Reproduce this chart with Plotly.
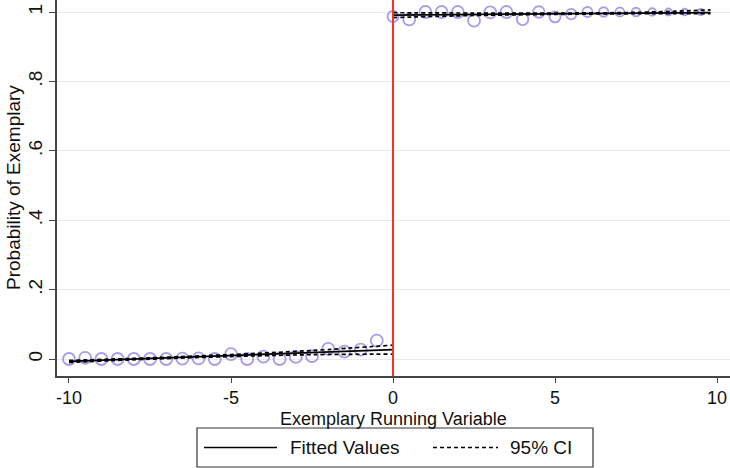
import plotly.graph_objects as go

# ---------------- data ----------------
x_left = [-10, -9.5, -9, -8.5, -8, -7.5, -7, -6.5, -6, -5.5,
          -5, -4.5, -4, -3.5, -3, -2.5, -2, -1.5, -1, -0.5]
y_left = [0.0, 0.003, 0.0, 0.0, 0.0, 0.0, 0.0, 0.001, 0.002, 0.0,
          0.014, 0.0, 0.007, 0.0, 0.006, 0.008, 0.029, 0.021, 0.027, 0.053]
s_left = [12] * 20

x_right = [0, 0.5, 1, 1.5, 2, 2.5, 3, 3.5, 4, 4.5,
           5, 5.5, 6, 6.5, 7, 7.5, 8, 8.5, 9, 9.5]
y_right = [0.987, 0.979, 1.0, 1.0, 1.0, 0.975, 0.999, 1.0, 0.979, 1.0,
           0.986, 0.994, 1.0, 1.0, 1.0, 1.0, 1.0, 1.0, 1.0, 1.0]
s_right = [11, 12, 12, 12, 12, 12, 12, 12, 11.5, 11.5,
           11, 10.5, 10, 9.5, 9, 8.5, 7.5, 7, 6.5, 6]

fit_left_x = [-10, 0]
fit_left_y = [-0.007, 0.027]
ci_left_x = [-10, -7.5, -5, -2.5, 0]
ci_left_hi = [-0.004, 0.0035, 0.013, 0.0245, 0.040]
ci_left_lo = [-0.010, -0.0005, 0.007, 0.0125, 0.014]

fit_right_x = [0, 9.8]
fit_right_y = [0.991, 0.9985]
ci_right_x = [0, 2.5, 5, 7.5, 9.8]
ci_right_hi = [0.998, 0.997, 0.997, 0.999, 1.006]
ci_right_lo = [0.984, 0.990, 0.993, 0.995, 0.995]

x_ticks = [-10, -5, 0, 5, 10]
x_tick_text = ["-10", "-5", "0", "5", "10"]
y_ticks = [0, 0.2, 0.4, 0.6, 0.8, 1]
y_tick_text = ["0", ".2", ".4", ".6", ".8", "1"]

legend_labels = ["Fitted Values", "95% CI"]
x_title = "Exemplary Running Variable"
y_title = "Probability of Exemplary"

# ---------------- styling ----------------
W, H = 730, 468
ML, MR, MT, MB = 57, 0, 0, 92
PW, PH = W - ML - MR, H - MT - MB
FONT = "Liberation Sans, Arial, Helvetica, sans-serif"
FS = 19
FST = 18
MARK = "rgb(128,116,226)"


def px(x):
    return (x - ML) / PW


def py(y):
    return (H - MB - y) / PH


fig = go.Figure()

for xs, ys, ss in [(x_left, y_left, s_left), (x_right, y_right, s_right)]:
    fig.add_trace(go.Scatter(
        x=xs, y=ys, mode="markers",
        marker=dict(symbol="circle-open", size=ss, color=MARK,
                    line=dict(width=1.8, color=MARK)),
        showlegend=False, hoverinfo="skip"))

for cx, hi, lo in [(ci_left_x, ci_left_hi, ci_left_lo),
                   (ci_right_x, ci_right_hi, ci_right_lo)]:
    for yy in (hi, lo):
        fig.add_trace(go.Scatter(
            x=cx, y=yy, mode="lines", line_shape="spline",
            line=dict(color="black", width=1.7, dash="4px,3px"),
            showlegend=False, hoverinfo="skip"))

for fx, fy in [(fit_left_x, fit_left_y), (fit_right_x, fit_right_y)]:
    fig.add_trace(go.Scatter(
        x=fx, y=fy, mode="lines",
        line=dict(color="black", width=1.7),
        showlegend=False, hoverinfo="skip"))

# cutoff line
fig.add_shape(type="line", xref="x", yref="paper", x0=0, x1=0, y0=0, y1=1,
              line=dict(color="rgb(255,45,45)", width=2))

# legend drawn manually
fig.add_shape(type="rect", xref="paper", yref="paper",
              x0=px(197), x1=px(593), y0=py(428), y1=py(467),
              line=dict(color="#333333", width=1.2), fillcolor="white")
fig.add_shape(type="line", xref="paper", yref="paper",
              x0=px(204), x1=px(277), y0=py(447.5), y1=py(447.5),
              line=dict(color="black", width=1.6))
fig.add_shape(type="line", xref="paper", yref="paper",
              x0=px(433), x1=px(498), y0=py(447.5), y1=py(447.5),
              line=dict(color="black", width=1.6, dash="4px,3px"))
fig.add_annotation(xref="paper", yref="paper", x=px(288), y=py(447.5),
                   text=legend_labels[0], showarrow=False, xanchor="left",
                   yanchor="middle", font=dict(family=FONT, size=FS, color="#111"))
fig.add_annotation(xref="paper", yref="paper", x=px(508), y=py(447.5),
                   text=legend_labels[1], showarrow=False, xanchor="left",
                   yanchor="middle", font=dict(family=FONT, size=FS, color="#111"))

# axis titles
fig.add_annotation(xref="paper", yref="paper", x=px(393), y=py(419),
                   text=x_title, showarrow=False, xanchor="center",
                   yanchor="middle", font=dict(family=FONT, size=FST, color="#111"))
fig.add_annotation(xref="paper", yref="paper", x=px(13), y=py(188),
                   text=y_title, showarrow=False, xanchor="center",
                   yanchor="middle", textangle=-90,
                   font=dict(family=FONT, size=FS, color="#111"))

fig.update_layout(
    width=W, height=H,
    margin=dict(l=ML, r=MR, t=MT, b=MB, pad=0),
    paper_bgcolor="white", plot_bgcolor="white",
    font=dict(family=FONT, size=FS, color="#111"),
    showlegend=False,
)
fig.update_xaxes(
    range=[-10.37, 10.4], tickmode="array", tickvals=x_ticks, ticktext=x_tick_text,
    showgrid=False, zeroline=False, showline=True, linecolor="#444", linewidth=1.5,
    ticks="outside", ticklen=5, tickwidth=1.3, tickcolor="#444",
    tickfont=dict(family=FONT, size=FST, color="#111"),
)
fig.update_yaxes(
    range=[-0.049, 1.0346], tickmode="array", tickvals=y_ticks, ticktext=y_tick_text,
    tickangle=-90, showgrid=True, gridcolor="rgb(228,236,240)", gridwidth=1,
    zeroline=False, showline=True, linecolor="#444", linewidth=1.5,
    ticks="outside", ticklen=6, tickwidth=1.3, tickcolor="#444",
    tickfont=dict(family=FONT, size=FS, color="#111"),
)

fig.write_html("out.html")
